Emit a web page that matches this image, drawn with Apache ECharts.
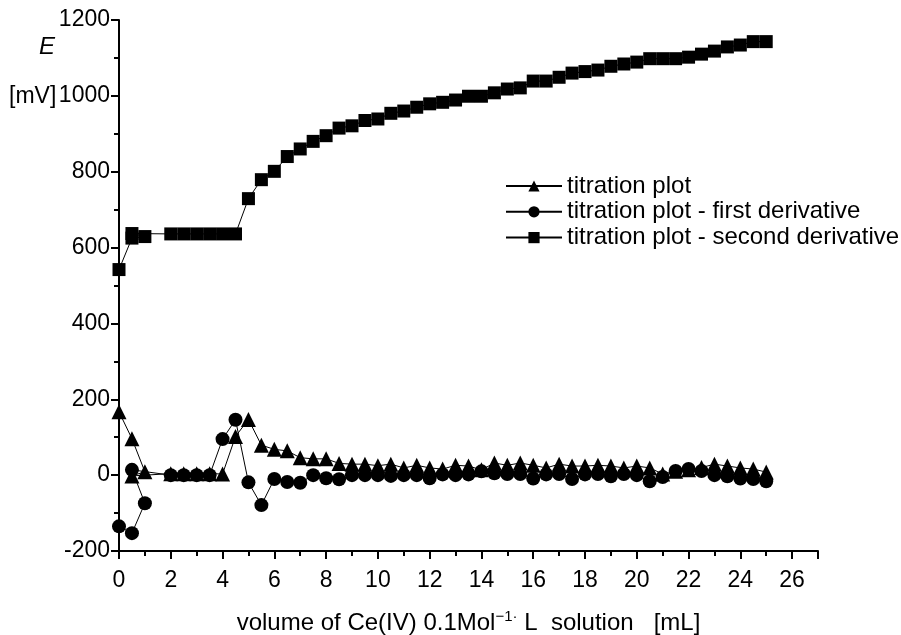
<!DOCTYPE html>
<html>
<head>
<meta charset="utf-8">
<script src="https://cdn.jsdelivr.net/npm/echarts@6/dist/echarts.min.js"></script>
<style>
  html, body { margin: 0; padding: 0; background: #fff; }
  #chart { width: 901px; height: 635px; }
</style>
</head>
<body>
<div id="chart"></div>
<script>
// volume of Ce(IV) solution [mL] (the 0.5 point appears twice in the source plot)
const volume = [0, 0.5, 1, 0.5, 2, 2.5, 3, 3.5, 4, 4.5, 5, 5.5, 6, 6.5, 7, 7.5, 8, 8.5, 9, 9.5,
  10, 10.5, 11, 11.5, 12, 12.5, 13, 13.5, 14, 14.5, 15, 15.5, 16, 16.5, 17, 17.5, 18, 18.5, 19, 19.5,
  20, 20.5, 21, 21.5, 22, 22.5, 23, 23.5, 24, 24.5, 25]

// E [mV]
const titration = [167, 96, 9, -2, 4, 4, 4, 4, 3, 102, 147, 79, 68, 64, 46, 43, 43, 31, 29, 29,
  25, 29, 19, 26, 19, 16, 26, 24, 14, 32, 26, 32, 26, 19, 29, 24, 24, 26, 24, 19,
  24, 19, 3, 10, 14, 20, 29, 24, 19, 16, 8]
const firstDerivative = [-135, -153, -74, 14, 0, 0, 0, 0, 95, 146, -19, -79, -10, -18, -20, 0, -8, -11, 0, 0,
  0, -2, 0, 0, -8, 2, 0, 2, 10, 5, 3, 3, -9, 2, 3, -10, 2, 3, -3, 3,
  0, -16, -5, 11, 16, 11, 0, -3, -9, -10, -16]
const secondDerivative = [542, 625, 629, 637, 636, 636, 636, 636, 636, 636, 729, 779, 801, 840, 860, 880, 895, 915, 921, 935,
  939, 954, 960, 970, 979, 983, 989, 999, 999, 1008, 1018, 1021, 1039, 1039, 1049, 1060, 1064, 1068, 1078, 1084,
  1089, 1098, 1098, 1098, 1102, 1110, 1118, 1129, 1134, 1143, 1143]

const seriesNames = ['titration plot', 'titration plot - first derivative', 'titration plot - second derivative']

const FONT = 'Liberation Sans, Arial, sans-serif'
const pairs = (vals) => volume.map((v, i) => [v, vals[i]])

const chart = echarts.init(document.getElementById('chart'))

const lineSeries = (name, vals, symbol, size) => ({
  name: name,
  type: 'line',
  data: pairs(vals),
  symbol: symbol,
  symbolSize: size,
  showAllSymbol: true,
  itemStyle: {color: '#000'},
  lineStyle: {color: '#000', width: 1},
  emphasis: {disabled: true}
})

chart.setOption({
  animation: false,
  backgroundColor: '#fff',
  textStyle: {fontFamily: FONT},
  grid: {left: 119, right: 83, top: 20, bottom: 84, containLabel: false, outerBoundsMode: 'none'},
  legend: {
    orient: 'vertical',
    left: 500,
    top: 169,
    itemWidth: 56,
    itemHeight: 14,
    itemGap: 1.8,
    textStyle: {fontSize: 24, color: '#000', fontFamily: FONT},
    data: seriesNames
  },
  xAxis: {
    type: 'value',
    min: 0,
    max: 27,
    interval: 2,
    splitLine: {show: false},
    axisLine: {onZero: false, lineStyle: {color: '#000', width: 2}},
    axisTick: {length: 8, lineStyle: {color: '#000', width: 2}},
    minorTick: {show: true, splitNumber: 2, length: 5, lineStyle: {color: '#000', width: 2}},
    axisLabel: {fontSize: 23, color: '#000', margin: 18, showMaxLabel: false, fontFamily: FONT},
    name: 'volume of Ce(IV) 0.1Mol{sup|\u22121\u00b7} L  solution   [mL]',
    nameLocation: 'middle',
    nameGap: 58,
    nameTextStyle: {
      fontSize: 24, color: '#000', fontFamily: FONT,
      rich: {sup: {fontSize: 15, verticalAlign: 'top', padding: [0, 0, 14, 0], color: '#000', fontFamily: FONT}}
    }
  },
  yAxis: {
    type: 'value',
    min: -200,
    max: 1200,
    interval: 200,
    splitLine: {show: false},
    axisLine: {show: true, onZero: false, lineStyle: {color: '#000', width: 2}},
    axisTick: {show: true, length: 8, lineStyle: {color: '#000', width: 2}},
    minorTick: {show: true, splitNumber: 2, length: 5, lineStyle: {color: '#000', width: 2}},
    axisLabel: {fontSize: 23, color: '#000', margin: 9, fontFamily: FONT, formatter: (v) => String(v)}
  },
  graphic: [
    {type: 'text', left: 39, top: 35, style: {text: 'E', fontSize: 24, fontStyle: 'italic', fill: '#000', fontFamily: FONT}},
    {type: 'text', left: 9, top: 85, style: {text: '[mV]', fontSize: 23, fill: '#000', fontFamily: FONT}}
  ],
  series: [
    lineSeries(seriesNames[0], titration, 'triangle', 15),
    lineSeries(seriesNames[1], firstDerivative, 'circle', 14),
    lineSeries(seriesNames[2], secondDerivative, 'rect', 13)
  ]
})

window.onresize = function () {
  chart.resize()
}
</script>
</body>
</html>
